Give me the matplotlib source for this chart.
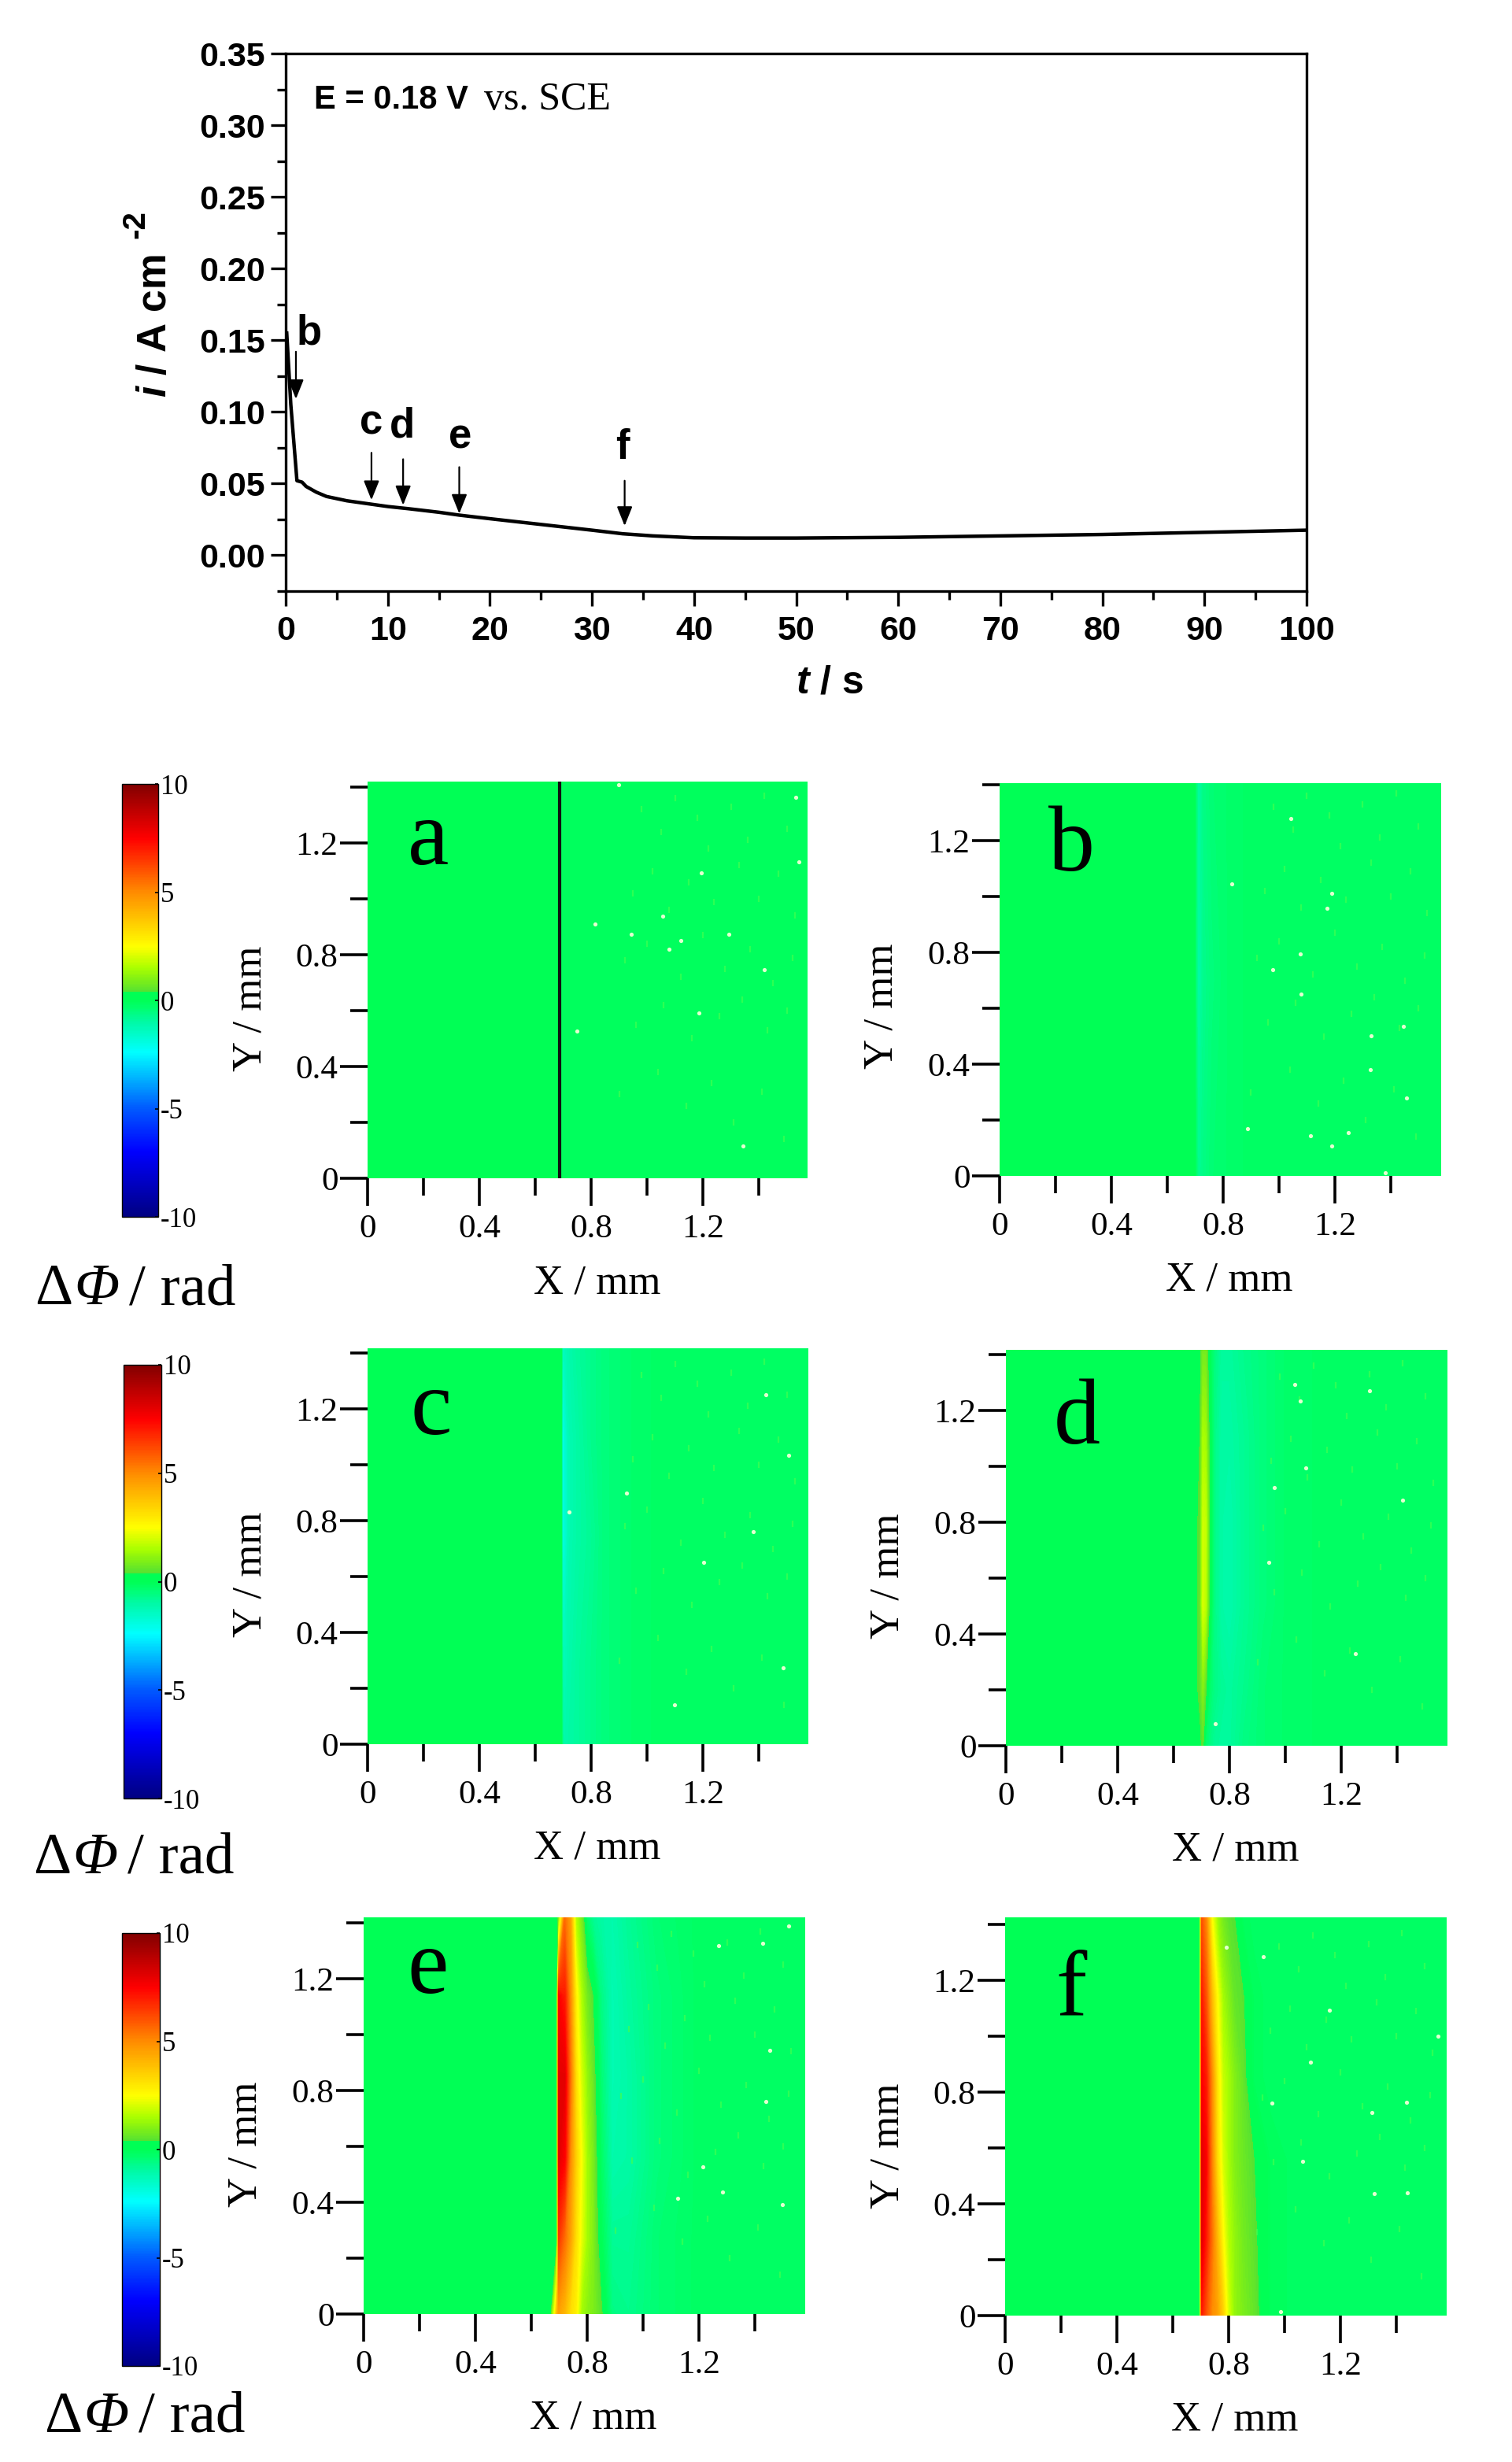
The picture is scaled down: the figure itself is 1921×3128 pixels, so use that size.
import matplotlib
matplotlib.use("Agg")
import matplotlib.pyplot as plt
import numpy as np
from matplotlib.cm import ScalarMappable
from matplotlib.colors import LinearSegmentedColormap, Normalize

W, H = 1921, 3128

# current transient
time_s = [0.1, 0.5, 1.1, 1.6, 2, 3, 4, 6, 8, 10, 12, 15, 17, 20, 25, 30, 33, 36, 40, 45, 50,
          60, 70, 80, 90, 100]
current = [0.155, 0.105, 0.052, 0.051, 0.048, 0.044, 0.041, 0.038, 0.036, 0.034, 0.0325, 0.030,
           0.028, 0.0255, 0.0215, 0.0175, 0.015, 0.0135, 0.0122, 0.012, 0.012, 0.0125, 0.0135,
           0.0145, 0.016, 0.0175]
arrow_names = ["b", "c", "d", "e", "f"]
arrow_t = [1.0, 8.4, 11.5, 17.0, 33.2]
arrow_from = [0.142, 0.0715, 0.067, 0.0615, 0.052]
arrow_to = [0.109, 0.0385, 0.035, 0.029, 0.0205]
arrow_label_t = [2.3, 8.4, 11.4, 17.1, 33.0]
arrow_label_i = [0.155, 0.092, 0.090, 0.0825, 0.075]

# phase maps, one row per Y value (rad)
phase_x_a = [0, 0.685, 0.695, 1.58]
phase_y_a = [0, 1.43]
phase_a = [[0.3, 0.3, -0.15, -0.15],
           [0.3, 0.3, -0.15, -0.15]]

phase_x_b = [0, 0.695, 0.703, 0.712, 0.73, 0.76, 0.82, 0.9, 1.58]
phase_y_b = [0, 0.7, 1.43]
phase_b = [[0.3, 0.3, -0.3, -0.8, -0.6, -0.4, -0.3, -0.2, -0.2],
           [0.3, 0.3, -0.5, -1.1, -0.7, -0.5, -0.3, -0.2, -0.2],
           [0.3, 0.3, -0.4, -1.0, -0.6, -0.4, -0.3, -0.2, -0.2]]

phase_x_c = [0, 0.692, 0.699, 0.705, 0.72, 0.75, 0.80, 0.85, 0.95, 1.05, 1.58]
phase_y_c = [0, 0.3, 0.75, 1.1, 1.43]
phase_c = [[0.3, 0.3, -0.9, -1.1, -1.0, -0.9, -0.7, -0.5, -0.3, -0.2, -0.2],
           [0.3, 0.3, -1.2, -1.3, -1.1, -0.9, -0.7, -0.5, -0.3, -0.2, -0.2],
           [0.3, 0.3, -2.0, -1.8, -1.2, -1.0, -0.8, -0.5, -0.3, -0.2, -0.2],
           [0.3, 0.3, -2.2, -1.8, -1.2, -1.0, -0.7, -0.5, -0.3, -0.2, -0.2],
           [0.3, 0.3, -1.4, -1.3, -1.1, -0.9, -0.7, -0.5, -0.3, -0.2, -0.2]]

phase_x_d = [0, 0.68, 0.695, 0.705, 0.715, 0.73, 0.745, 0.77, 0.80, 0.85, 0.92, 1.0, 1.15, 1.58]
phase_y_d = [0, 0.2, 0.5, 0.8, 1.1, 1.43]
phase_d = [[0.3, 0.3, 0.3, 0.5, -0.3, -0.6, -0.8, -0.9, -0.9, -0.6, -0.4, -0.3, -0.2, -0.2],
           [0.3, 0.3, 0.5, 1.0, 0.5, -0.3, -0.6, -0.8, -0.9, -0.7, -0.4, -0.3, -0.2, -0.2],
           [0.3, 0.3, 0.6, 2.0, 1.7, 0.2, -0.6, -1.0, -1.1, -0.8, -0.5, -0.3, -0.2, -0.2],
           [0.3, 0.3, 0.5, 1.9, 1.8, 0.3, -0.6, -1.0, -1.1, -0.8, -0.5, -0.3, -0.2, -0.2],
           [0.3, 0.3, 0.4, 1.5, 1.4, 0.2, -0.6, -1.0, -1.0, -0.8, -0.5, -0.3, -0.2, -0.2],
           [0.3, 0.3, 0.3, 0.8, 0.8, 0.0, -0.5, -0.9, -0.9, -0.7, -0.5, -0.3, -0.2, -0.2]]

phase_x_e = [0, 0.67, 0.692, 0.698, 0.72, 0.74, 0.76, 0.78, 0.80, 0.82, 0.85, 0.89, 0.95, 1.05, 1.2, 1.58]
phase_y_e = [0, 0.27, 0.56, 0.85, 1.14, 1.43]
phase_e = [[0.3, 0.3, 4.0, 4.5, 4.0, 3.2, 2.8, 1.4, 1.1, 0.9, 0.5, -0.6, -0.7, -0.4, -0.2, -0.2],
           [0.3, 0.3, 0.3, 6.5, 5.5, 4.5, 3.2, 2.2, 1.4, 1.0, 0.0, -0.8, -0.8, -0.4, -0.2, -0.2],
           [0.3, 0.3, 0.3, 8.0, 7.5, 5.0, 3.5, 2.4, 1.4, 0.9, -0.2, -1.1, -1.0, -0.5, -0.2, -0.2],
           [0.3, 0.3, 0.3, 8.0, 8.0, 5.5, 3.2, 2.0, 1.2, 0.7, -0.4, -1.2, -1.0, -0.5, -0.2, -0.2],
           [0.3, 0.3, 0.3, 7.5, 7.0, 5.0, 2.8, 1.5, 0.8, 0.4, -0.6, -1.2, -0.9, -0.5, -0.2, -0.2],
           [0.3, 0.3, 0.3, 0.5, 5.5, 4.6, 1.6, 0.8, -0.4, -0.8, -1.0, -1.1, -0.8, -0.4, -0.2, -0.2]]

phase_x_f = [0, 0.67, 0.697, 0.703, 0.72, 0.74, 0.76, 0.78, 0.80, 0.82, 0.85, 0.89, 0.95, 1.05, 1.2, 1.58]
phase_y_f = [0, 0.27, 0.56, 0.85, 1.14, 1.43]
phase_f = [[0.3, 0.3, 0.3, 7.0, 6.0, 5.0, 4.5, 3.5, 2.0, 1.2, 0.9, 0.6, -0.1, -0.2, -0.2, -0.2],
           [0.3, 0.3, 0.3, 8.0, 7.0, 5.5, 4.0, 2.6, 1.6, 1.2, 0.8, 0.5, -0.1, -0.2, -0.2, -0.2],
           [0.3, 0.3, 0.3, 8.0, 7.5, 5.2, 3.2, 2.0, 1.4, 1.0, 0.7, 0.4, -0.1, -0.2, -0.2, -0.2],
           [0.3, 0.3, 0.3, 7.5, 7.0, 5.0, 3.0, 1.8, 1.4, 1.0, 0.6, -0.1, -0.2, -0.2, -0.2, -0.2],
           [0.3, 0.3, 0.3, 7.0, 6.0, 4.0, 2.5, 1.4, 1.0, 0.6, 0.45, -0.1, -0.2, -0.2, -0.2, -0.2],
           [0.3, 0.3, 0.3, 6.0, 5.0, 2.5, 1.3, 0.8, 0.5, 0.4, -0.1, -0.2, -0.2, -0.2, -0.2, -0.2]]

# little pale specks on the maps (X, Y in mm)
specks_a = [(0.899, 1.409), (1.531, 1.364), (1.545, 1.131), (1.195, 1.093), (0.813, 0.911), (1.057, 0.938),
            (0.944, 0.873), (1.294, 0.873), (1.122, 0.851), (1.078, 0.821), (1.419, 0.746), (1.186, 0.591),
            (0.75, 0.527), (1.343, 0.116)]
specks_b = [(1.041, 1.279), (0.832, 1.044), (1.189, 1.011), (1.173, 0.958), (1.075, 0.794), (0.978, 0.738),
            (1.079, 0.651), (1.444, 0.535), (1.33, 0.501), (1.327, 0.379), (1.457, 0.279), (0.887, 0.168),
            (1.114, 0.143), (1.249, 0.154), (1.189, 0.108), (1.38, 0.01)]
specks_c = [(1.426, 1.252), (1.507, 1.033), (1.381, 0.76), (1.203, 0.652), (1.487, 0.273), (1.098, 0.142),
            (0.927, 0.90), (0.72, 0.83)]
specks_d = [(1.034, 1.293), (1.054, 1.233), (1.074, 0.994), (0.96, 0.924), (0.942, 0.656), (0.75, 0.079),
            (1.3, 1.27), (1.42, 0.88), (1.25, 0.33)]
specks_e = [(1.271, 1.319), (1.213, 0.527), (1.124, 0.414), (1.285, 0.437), (1.428, 1.327), (1.52, 1.39),
            (1.454, 0.944), (1.44, 0.76), (1.499, 0.392)]
specks_f = [(0.791, 1.319), (0.924, 1.285), (1.16, 1.093), (1.093, 0.907), (0.955, 0.76), (1.313, 0.727),
            (1.065, 0.553), (1.321, 0.438), (0.986, 0.015), (1.549, 1.0), (1.437, 0.763), (1.44, 0.44)]

# faint lime flecks in the mottled right part (X, Y in mm)
flecks_x = [0.98, 1.05, 1.10, 1.18, 1.22, 1.30, 1.36, 1.42, 1.50, 0.95, 1.02, 1.08, 1.15, 1.24, 1.33, 1.40,
            1.47, 1.53, 0.92, 1.00, 1.12, 1.20, 1.28, 1.37, 1.45, 1.52, 0.96, 1.06, 1.16, 1.26, 1.34, 1.43,
            1.50, 0.90, 1.04, 1.14, 1.23, 1.31, 1.41, 1.49]
flecks_y = [1.32, 1.24, 1.36, 1.29, 1.18, 1.33, 1.21, 1.37, 1.25, 1.02, 1.10, 0.96, 1.06, 0.99, 1.12, 1.00,
            1.09, 0.94, 0.78, 0.84, 0.72, 0.87, 0.75, 0.82, 0.70, 0.79, 0.55, 0.62, 0.50, 0.58, 0.64, 0.53,
            0.60, 0.30, 0.38, 0.26, 0.34, 0.20, 0.31, 0.14]

panel_names = ["a", "b", "c", "d", "e", "f"]
panel_x = [phase_x_a, phase_x_b, phase_x_c, phase_x_d, phase_x_e, phase_x_f]
panel_y = [phase_y_a, phase_y_b, phase_y_c, phase_y_d, phase_y_e, phase_y_f]
panel_z = [phase_a, phase_b, phase_c, phase_d, phase_e, phase_f]
panel_specks = [specks_a, specks_b, specks_c, specks_d, specks_e, specks_f]

# colour scale of the maps
cbar_ticks = [-10, -5, 0, 5, 10]
cbar_labels = ["-10", "-5", "0", "5", "10"]
scale_values = [-10, -7, -5, -2.4, -1, -0.3, 0, 0.35, 0.4, 1.0, 1.5, 2.5, 5, 7.5, 10]
scale_colors = ["#000082", "#0000ff", "#005aff", "#00ffff", "#00faa5", "#00ff6a", "#00ff55", "#00ff55",
                "#55e132", "#82f014", "#aaff00", "#ffff00", "#ff8c00", "#ff0000", "#820000"]

plt.rcParams["font.family"] = ["Liberation Serif", "DejaVu Serif"]
plt.rcParams["mathtext.fontset"] = "custom"
plt.rcParams["mathtext.rm"] = "Liberation Sans:bold"
plt.rcParams["mathtext.bf"] = "Liberation Sans:bold"
plt.rcParams["mathtext.bfit"] = "Liberation Sans:italic:bold"
plt.rcParams["mathtext.it"] = "Liberation Sans:italic:bold"

SANS = ["Liberation Sans", "DejaVu Sans"]


def px_axes(fig, left, top, right, bottom):
    return fig.add_axes([left / W, 1 - bottom / H, (right - left) / W, (bottom - top) / H])


def fx(x):
    return x / W


def fy(y):
    return 1 - y / H


def draw_transient(fig):
    ax = px_axes(fig, 363, 68, 1660, 751)
    ax.plot(time_s, current, color="black", lw=3.2)
    ax.set_xlim(0, 100)
    ax.set_ylim(-0.025, 0.35)
    ax.set_xticks(np.arange(0, 101, 10))
    ax.set_xticks(np.arange(5, 100, 10), minor=True)
    ax.set_yticks(np.arange(0, 0.351, 0.05))
    ax.set_yticks(np.arange(-0.025, 0.34, 0.05), minor=True)
    ax.set_yticklabels([f"{v:.2f}" for v in np.arange(0, 0.351, 0.05)])
    ax.tick_params(which="major", length=14, width=2.4, labelsize=31)
    ax.tick_params(axis="x", which="major", pad=8)
    ax.tick_params(axis="y", which="major", pad=5)
    ax.tick_params(which="minor", length=8, width=2.4)
    for lab in ax.get_xticklabels() + ax.get_yticklabels():
        lab.set_family(SANS)
        lab.set_weight("bold")
    for sp in ax.spines.values():
        sp.set_linewidth(2.4)

    for t0, i0, i1 in zip(arrow_t, arrow_from, arrow_to):
        ax.annotate("", xy=(t0, i1), xytext=(t0, i0),
                    arrowprops=dict(arrowstyle="-|>,head_length=1.0,head_width=0.4", color="black",
                                    lw=1.6, shrinkA=0, shrinkB=0, mutation_scale=15))
    for name, t0, i0 in zip(arrow_names, arrow_label_t, arrow_label_i):
        ax.text(t0, i0, name, family=SANS, weight="bold", fontsize=38, ha="center", va="center")

    fig.text(fx(399), fy(127), "E = 0.18 V", family=SANS, weight="bold", fontsize=30, va="center")
    fig.text(fx(615), fy(127), "vs. SCE", fontsize=36, va="center")
    fig.text(fx(197), fy(414), r"$\mathbfit{i}$ / A cm", family=SANS, weight="bold", fontsize=37,
             rotation=90, ha="center", va="center")
    fig.text(fx(172), fy(285), "-2", family=SANS, weight="bold", fontsize=29, rotation=90,
             ha="center", va="center")
    fig.text(fx(1054), fy(868), r"$\mathbfit{t}$ / s", family=SANS, weight="bold", fontsize=36,
             ha="center", va="center")


def draw_panel(fig, box, idx, levels, cmap, norm, letter_at):
    left, top, right, bottom = box
    ax = px_axes(fig, left, top, right, bottom)
    # contourf interpolates in value, so the ridge runs through the colour scale like the original
    ax.contourf(panel_x[idx], panel_y[idx], np.array(panel_z[idx]), levels=levels, cmap=cmap,
                norm=norm, antialiased=False)
    ax.scatter(flecks_x, flecks_y, s=40, marker="|", color="#40ff50", alpha=0.7, linewidths=1.6, zorder=2)
    sx, sy = zip(*panel_specks[idx])
    ax.scatter(sx, sy, s=14, color="#e4ffd0", linewidths=0, zorder=3)
    if panel_names[idx] == "a":
        ax.axvline(0.688, color="#101010", lw=3.0)

    # 355 px per mm in every panel
    ax.set_xlim(0, (right - left) / 355)
    ax.set_ylim(0, (bottom - top) / 355)
    ax.set_xticks([0, 0.4, 0.8, 1.2])
    ax.set_xticklabels(["0", "0.4", "0.8", "1.2"])
    ax.set_yticks([0, 0.4, 0.8, 1.2])
    ax.set_yticklabels(["0", "0.4", "0.8", "1.2"])
    ax.set_xticks([0.2, 0.6, 1.0, 1.4], minor=True)
    ax.set_yticks([0.2, 0.6, 1.0, 1.4], minor=True)
    ax.tick_params(which="major", length=25, width=2.6, labelsize=31)
    ax.tick_params(which="minor", length=16, width=2.6)
    ax.tick_params(axis="x", which="major", pad=8)
    ax.tick_params(axis="y", which="major", pad=2)
    for sp in ax.spines.values():
        sp.set_visible(False)

    fig.text(fx(left + 292), fy(bottom + 133), "X / mm", fontsize=38, ha="center", va="center")
    fig.text(fx(left - 149), fy(bottom - 216), "Y / mm", fontsize=38, rotation=90,
             ha="center", va="center")
    fig.text(fx(letter_at[0]), fy(letter_at[1]), panel_names[idx], fontsize=85, ha="center",
             va="baseline")


def draw_colorbar(fig, box, cmap, norm):
    left, top, right, bottom = box
    cax = px_axes(fig, left, top, right, bottom)
    cb = fig.colorbar(ScalarMappable(norm=norm, cmap=cmap), cax=cax)
    cb.set_ticks(cbar_ticks)
    cb.set_ticklabels(cbar_labels)
    cb.outline.set_linewidth(1.0)
    cax.tick_params(length=3, width=1.2, direction="in", pad=2, labelsize=25)


def draw_rad_label(fig, x0, baseline):
    fig.text(fx(x0), fy(baseline), "\u0394", fontsize=54, va="baseline")
    fig.text(fx(x0 + 50), fy(baseline), "\u03a6", fontsize=54, style="italic", va="baseline")
    fig.text(fx(x0 + 120), fy(baseline), "/ rad", fontsize=54, va="baseline")


def main():
    fig = plt.figure(figsize=(W / 100, H / 100), dpi=100)

    draw_transient(fig)

    span = 20.0
    nodes = [((v + 10) / span, c) for v, c in zip(scale_values, scale_colors)]
    cmap = LinearSegmentedColormap.from_list("phase", nodes, N=256)
    norm = Normalize(-10, 10)
    levels = np.linspace(-10, 10, 257)

    panel_boxes = [(467, 993, 1026, 1497), (1270, 995, 1834, 1494),
                   (467, 1713, 1027, 2216), (1278, 1715, 1842, 2218),
                   (462, 2436, 1023, 2940), (1277, 2436, 1839, 2942)]
    letter_spots = [(544, 1098), (1362, 1106), (548, 1822), (1368, 1834), (544, 2532), (1361, 2560)]
    for i, box in enumerate(panel_boxes):
        draw_panel(fig, box, i, levels, cmap, norm, letter_spots[i])

    draw_colorbar(fig, (155, 996, 201, 1546), cmap, norm)
    draw_colorbar(fig, (157, 1734, 205, 2285), cmap, norm)
    draw_colorbar(fig, (155, 2456, 203, 3006), cmap, norm)

    draw_rad_label(fig, 44, 1657)
    draw_rad_label(fig, 42, 2380)
    draw_rad_label(fig, 56, 3090)

    fig.savefig("out.png", dpi=100)


if __name__ == "__main__":
    main()
